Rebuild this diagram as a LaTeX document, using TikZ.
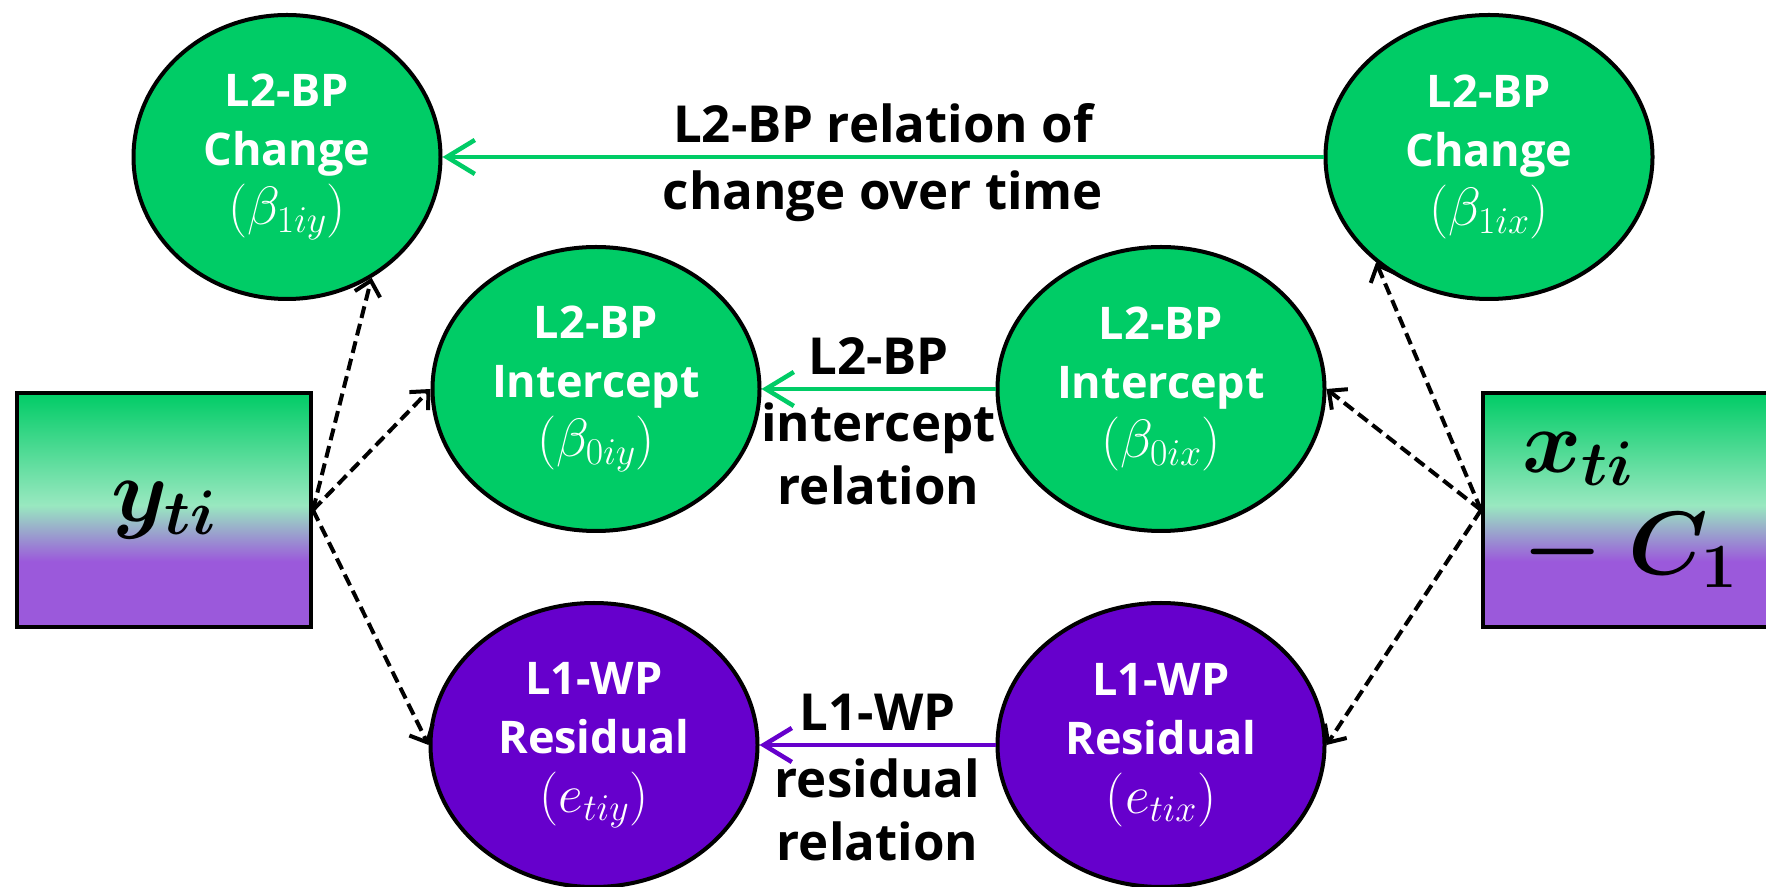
\RequirePackage{fix-cm}
\documentclass[tikz,border=0pt]{standalone}
\usepackage{amsmath,bm}
\usepackage{fontspec}
\usepackage{tikz}
\usetikzlibrary{shapes.geometric,arrows.meta}

\newfontfamily\lblfont{Open Sans}

\definecolor{bpgreen}{RGB}{0,204,102}
\definecolor{wppurple}{RGB}{102,0,204}
\definecolor{boxmint}{RGB}{153,232,192}
\definecolor{boxpurple}{RGB}{155,89,219}

\pgfdeclareverticalshading{boxfade}{100bp}{color(0bp)=(boxpurple); color(39bp)=(boxpurple); color(51bp)=(boxmint); color(75bp)=(bpgreen); color(100bp)=(bpgreen)}

\newcommand{\param}[1]{{\fontsize{54}{59}\selectfont$(#1)$}}

\begin{document}
\begin{tikzpicture}[x=1pt, y=1pt,
    >={Straight Barb[length=14pt,width=26pt]},
    latent/.style={ellipse, draw=black, line width=4pt, inner sep=0pt, text=white, align=center,
        font=\lblfont\bfseries\fontsize{45}{59}\selectfont},
    between/.style={latent, fill=bpgreen, minimum width=327pt, minimum height=284pt},
    within/.style={latent, fill=wppurple, minimum width=327pt, minimum height=284pt},
    observed/.style={rectangle, draw=black, line width=4pt, shading=boxfade,
        minimum width=294pt, minimum height=234pt, font=\fontsize{90}{102}\selectfont},
    loading/.style={->, line width=4pt, dash pattern=on 12pt off 6pt},
    relation/.style={->, line width=4.5pt, >={Straight Barb[length=28pt,width=34pt]}},
    rellabel/.style={text=black, inner sep=12pt, font=\lblfont\bfseries\fontsize{51}{63}\selectfont}]

    \useasboundingbox (0,0) rectangle (1766,886);

    \node[observed] (ybox) at (164,376) {$\bm{y}_{\bm{ti}}$};
    \node[observed, align=left] (xbox) at (1630,376) {$\bm{x}_{\bm{ti}}$\\$\bm{-}\;\bm{C}_{\bm{1}}$};

    \node[between, minimum width=307pt] (chgy) at (287,729) {L2-BP\\Change\\\param{\beta_{1iy}}};
    \node[between] (chgx) at (1489,729) {L2-BP\\Change\\\param{\beta_{1ix}}};
    \node[between] (icpy) at (596,497) {L2-BP\\Intercept\\\param{\beta_{0iy}}};
    \node[between] (icpx) at (1161,497) {L2-BP\\Intercept\\\param{\beta_{0ix}}};
    \node[within] (resy) at (594,141) {L1-WP\\Residual\\\param{e_{tiy}}};
    \node[within] (resx) at (1161,141) {L1-WP\\Residual\\\param{e_{tix}}};

    \draw[relation, bpgreen] (chgx) -- node[rellabel, above] {L2-BP relation of}
        node[rellabel, below] {change over time} (chgy);
    \draw[relation, bpgreen] (icpx) -- node[rellabel, above] {L2-BP}
        node[rellabel, below, align=center] {intercept\\relation} (icpy);
    \draw[relation, wppurple] (resx) -- node[rellabel, above] {L1-WP}
        node[rellabel, below, align=center] {residual\\relation} (resy);

    \draw[loading] (ybox.east) -- (chgy.-55);
    \draw[loading] (ybox.east) -- (icpy.west);
    \draw[loading] (ybox.east) -- (resy.west);
    \draw[loading] (xbox.west) -- (chgx.223);
    \draw[loading] (xbox.west) -- (icpx.east);
    \draw[loading] (xbox.west) -- (resx.east);
\end{tikzpicture}
\end{document}
